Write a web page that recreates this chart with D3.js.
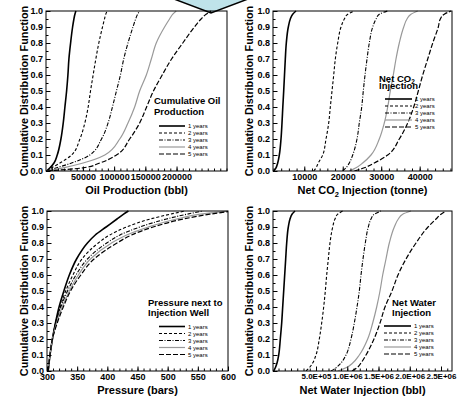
<!DOCTYPE html>
<html>
<head>
<meta charset="utf-8">
<script src="https://cdn.jsdelivr.net/npm/d3@7"></script>
<style>
  body { margin: 0; background: #fff; }
  text { font-family: "Liberation Sans", Arial, sans-serif; }
</style>
</head>
<body>
<div id="chart"></div>
<script>
// CDF levels used when reading the curves off the picture
var cdfLevels = [0, 0.02, 0.05, 0.1, 0.2, 0.3, 0.4, 0.5, 0.6, 0.7, 0.8, 0.9, 0.95, 0.98, 1];
var pressureLevels = [0, 0.1, 0.2, 0.3, 0.4, 0.5, 0.6, 0.7, 0.8, 0.85, 0.9, 0.95, 0.98, 1];
var yearNames = ["1 years", "2 years", "3 years", "4 years", "5 years"];
var yTicks = [0, 0.1, 0.2, 0.3, 0.4, 0.5, 0.6, 0.7, 0.8, 0.9, 1.0];

// cumulative oil production (bbl)
var oilYear1 = [-8000, -2700, 3700, 8900, 14800, 18500, 21200, 23900, 26000, 27600, 30300, 33500, 35600, 37200, 38800];
var oilYear2 = [-8000, 0, 13200, 31900, 45200, 53100, 58400, 62200, 66400, 70700, 75500, 81400, 84600, 86600, 88700];
var oilYear3 = [-8000, 8000, 31900, 61100, 79800, 90300, 97300, 103700, 110100, 115400, 122200, 130200, 134500, 137700, 140900];
var oilYear4 = [-8000, 18500, 50400, 85100, 109000, 122200, 132900, 140900, 151600, 159600, 167500, 180800, 188800, 194000, 199500];
var oilYear5 = [-8000, 50400, 77100, 103700, 124900, 140900, 152000, 163000, 177000, 192000, 210000, 228600, 239300, 247300, 255300];
var oilTicks = [0, 50000, 100000, 150000, 200000];

// net CO2 injection (tonne)
var co2Year1 = [2050, 2650, 3090, 3510, 3950, 4210, 4420, 4650, 4860, 5070, 5330, 5850, 6370, 6990, 7850];
var co2Year2 = [12450, 13050, 13650, 14790, 15650, 16350, 16770, 17210, 17650, 18070, 18690, 19550, 20410, 21290, 23010];
var co2Year3 = [19990, 20850, 21710, 22590, 23710, 24300, 24930, 25340, 25790, 26310, 26900, 27790, 28650, 29500, 31690];
var co2Year4 = [21710, 23450, 25190, 27350, 29500, 30800, 31690, 32360, 33140, 33840, 34700, 35850, 36700, 37740, 39490];
var co2Year5 = [23010, 25600, 28200, 31690, 34700, 36890, 38450, 39640, 40790, 42090, 43390, 44840, 45360, 46400, 48140];
var co2Ticks = [10000, 20000, 30000, 40000];

// pressure next to injection well (bars)
var presYear1 = [302, 305, 309, 314, 320, 328, 337, 349, 367, 380, 398, 416, 427, 435];
var presYear2 = [302, 305, 309, 314, 322, 331, 343, 358, 385, 404, 432, 471, 504, 529];
var presYear3 = [302, 305, 309, 315, 323, 334, 348, 367, 399, 421, 454, 498, 532, 559];
var presYear4 = [302, 305, 309, 316, 325, 337, 352, 372, 407, 432, 468, 515, 554, 603];
var presYear5 = [302, 305, 309, 317, 327, 339, 356, 378, 416, 440, 476, 526, 570, 609];
var presTicks = [300, 350, 400, 450, 500, 550, 600];

// net water injection (bbl)
var waterYear1 = [-177000, -151000, -124000, -97000, -71000, -49000, -33000, -17000, -1000, 15000, 31000, 57000, 84000, 116000, 164000];
var waterYear2 = [340000, 393000, 447000, 500000, 553000, 591000, 623000, 649000, 671000, 697000, 724000, 767000, 804000, 847000, 927000];
var waterYear3 = [740000, 820000, 900000, 980000, 1060000, 1113000, 1156000, 1193000, 1220000, 1252000, 1289000, 1337000, 1380000, 1433000, 1540000];
var waterYear4 = [847000, 980000, 1087000, 1193000, 1327000, 1407000, 1471000, 1524000, 1567000, 1620000, 1673000, 1753000, 1817000, 1887000, 2020000];
var waterYear5 = [1076000, 1156000, 1220000, 1300000, 1428000, 1524000, 1604000, 1716000, 1812000, 1940000, 2100000, 2292000, 2420000, 2500000, 2580000];
var waterTicks = [500000, 1000000, 1500000, 2000000, 2500000];
var waterTickLabels = ["5.0E+05", "1.0E+06", "1.5E+06", "2.0E+06", "2.5E+06"];

var lineStyles = [
    { stroke: "#000", width: 1.6, dash: null },
    { stroke: "#000", width: 1.1, dash: "3,2" },
    { stroke: "#000", width: 1.1, dash: "4,1.5,1,1.5" },
    { stroke: "#999", width: 1.2, dash: null },
    { stroke: "#000", width: 1.2, dash: "5,2" }
];

var panels = [
    { id: "oil", left: 46, right: 227, top: 11, bottom: 171, domain: [-9100, 280800],
      levels: cdfLevels, series: [oilYear1, oilYear2, oilYear3, oilYear4, oilYear5],
      ticks: oilTicks, minorStep: 10000, tickLabels: null, tickFont: 9,
      xTitle: ["Oil Production (bbl)"], yTitleX: 28, xTitleY: 194,
      legendTitle: [["Cumulative Oil"], ["Production"]], titleX: 154, titleY: [104, 115],
      legX: 159, legLen: 26, legY: 126 },
    { id: "co2", left: 273, right: 452, top: 11, bottom: 171, domain: [1870, 48400],
      levels: cdfLevels, series: [co2Year1, co2Year2, co2Year3, co2Year4, co2Year5],
      ticks: co2Ticks, minorStep: 2000, tickLabels: null, tickFont: 9,
      xTitle: ["Net CO", "2", " Injection (tonne)"], yTitleX: 253, xTitleY: 194,
      legendTitle: [["Net CO", "2"], ["Injection"]], titleX: 379, titleY: [81.5, 89],
      legX: 385, legLen: 27, legY: 99 },
    { id: "pres", left: 47, right: 228, top: 211, bottom: 371, domain: [300, 600],
      levels: pressureLevels, series: [presYear1, presYear2, presYear3, presYear4, presYear5],
      ticks: presTicks, minorStep: 10, tickLabels: null, tickFont: 9,
      xTitle: ["Pressure (bars)"], yTitleX: 28, xTitleY: 394,
      legendTitle: [["Pressure next to"], ["Injection Well"]], titleX: 148, titleY: [306, 316],
      legX: 159, legLen: 26, legY: 326.5 },
    { id: "water", left: 273, right: 452, top: 211, bottom: 371, domain: [-188000, 2676000],
      levels: cdfLevels, series: [waterYear1, waterYear2, waterYear3, waterYear4, waterYear5],
      ticks: waterTicks, minorStep: 100000, tickLabels: waterTickLabels, tickFont: 8,
      xTitle: ["Net Water Injection (bbl)"], yTitleX: 253, xTitleY: 394,
      legendTitle: [["Net Water"], ["Injection"]], titleX: 392, titleY: [306, 316],
      legX: 384, legLen: 27, legY: 326 }
];

var svg = d3.select("#chart")
    .append("svg")
    .attr("width", 462)
    .attr("height", 398);

svg.append("rect").attr("width", 462).attr("height", 398).attr("fill", "#fff");

// piece of the arrow above the panels
svg.append("path")
    .attr("d", "M174,-1 L211,13 L248,-1 Z")
    .attr("fill", "#bfe3ea")
    .attr("stroke", "#000")
    .attr("stroke-width", 1.5);

// writes a text with optional CO2 subscript parts
function addParts(t, parts, size) {
    parts.forEach(function (s, i) {
        var ts = t.append("tspan").text(s);
        if (i % 2 == 1) {
            ts.attr("font-size", size * 0.68).attr("dy", size * 0.25);
        } else if (i > 0) {
            ts.attr("dy", -size * 0.25);
        }
    });
}

panels.forEach(function (p) {
    var x = d3.scaleLinear().domain(p.domain).range([p.left, p.right]);
    var y = d3.scaleLinear().domain([0, 1]).range([p.bottom, p.top]);

    var g = svg.append("g");

    g.append("clipPath").attr("id", "clip-" + p.id)
        .append("rect")
        .attr("x", p.left).attr("y", p.top - 2)
        .attr("width", p.right - p.left).attr("height", p.bottom - p.top + 2);

    var line = d3.line()
        .x(function (d) { return x(d[0]); })
        .y(function (d) { return y(d[1]); })
        .curve(d3.curveMonotoneY);

    var curves = g.append("g").attr("clip-path", "url(#clip-" + p.id + ")");
    p.series.forEach(function (vals, i) {
        var pts = vals.map(function (v, k) { return [v, p.levels[k]]; });
        var st = lineStyles[i];
        curves.append("path")
            .datum(pts)
            .attr("d", line)
            .attr("fill", "none")
            .attr("stroke", st.stroke)
            .attr("stroke-width", st.width)
            .attr("stroke-dasharray", st.dash);
    });

    // frame
    g.append("rect")
        .attr("x", p.left).attr("y", p.top)
        .attr("width", p.right - p.left).attr("height", p.bottom - p.top)
        .attr("fill", "none").attr("stroke", "#000").attr("stroke-width", 1);

    // x axis, ticks pointing in
    var minor = d3.range(Math.ceil(p.domain[0] / p.minorStep) * p.minorStep, p.domain[1], p.minorStep);
    g.append("g")
        .attr("transform", "translate(0," + p.bottom + ")")
        .call(d3.axisBottom(x).tickValues(minor).tickSize(-2.5).tickFormat(""))
        .call(function (a) { a.select(".domain").remove(); });
    var xAxis = d3.axisBottom(x).tickValues(p.ticks).tickSize(-4.5).tickPadding(2.5);
    if (p.tickLabels) xAxis.tickFormat(function (d, i) { return p.tickLabels[i]; });
    else xAxis.tickFormat(d3.format("d"));
    g.append("g")
        .attr("transform", "translate(0," + p.bottom + ")")
        .call(xAxis)
        .call(function (a) {
            a.select(".domain").remove();
            a.selectAll("text").attr("font-size", p.tickFont).attr("font-weight", "bold")
                .attr("font-family", "Liberation Sans, Arial, sans-serif").attr("fill", "#000");
        });

    // y axis
    g.append("g")
        .attr("transform", "translate(" + p.left + ",0)")
        .call(d3.axisLeft(y).tickValues(d3.range(0.05, 1, 0.1)).tickSize(-2.5).tickFormat(""))
        .call(function (a) { a.select(".domain").remove(); });
    g.append("g")
        .attr("transform", "translate(" + p.left + ",0)")
        .call(d3.axisLeft(y).tickValues(yTicks).tickSize(-4.5).tickPadding(3).tickFormat(d3.format(".1f")))
        .call(function (a) {
            a.select(".domain").remove();
            a.selectAll("text").attr("font-size", 9).attr("font-weight", "bold")
                .attr("font-family", "Liberation Sans, Arial, sans-serif").attr("fill", "#000");
        });

    // axis titles
    g.append("text")
        .attr("transform", "translate(" + p.yTitleX + "," + ((p.top + p.bottom) / 2) + ") rotate(-90)")
        .attr("text-anchor", "middle")
        .attr("font-size", 10.8).attr("font-weight", "bold")
        .text("Cumulative Distribution Function");
    var xt = g.append("text")
        .attr("x", (p.left + p.right) / 2).attr("y", p.xTitleY)
        .attr("text-anchor", "middle")
        .attr("font-size", 11).attr("font-weight", "bold");
    addParts(xt, p.xTitle, 11);

    // legend
    p.legendTitle.forEach(function (parts, i) {
        var t = g.append("text")
            .attr("x", p.titleX).attr("y", p.titleY[i])
            .attr("font-size", 9.5).attr("font-weight", "bold");
        addParts(t, parts, 9.5);
    });
    yearNames.forEach(function (name, i) {
        var st = lineStyles[i];
        var ly = p.legY + i * 7;
        g.append("line")
            .attr("x1", p.legX).attr("x2", p.legX + p.legLen)
            .attr("y1", ly).attr("y2", ly)
            .attr("stroke", st.stroke).attr("stroke-width", st.width)
            .attr("stroke-dasharray", st.dash);
        g.append("text")
            .attr("x", p.legX + p.legLen + 3).attr("y", ly + 2)
            .attr("font-size", 6)
            .text(name);
    });
});
</script>
</body>
</html>
